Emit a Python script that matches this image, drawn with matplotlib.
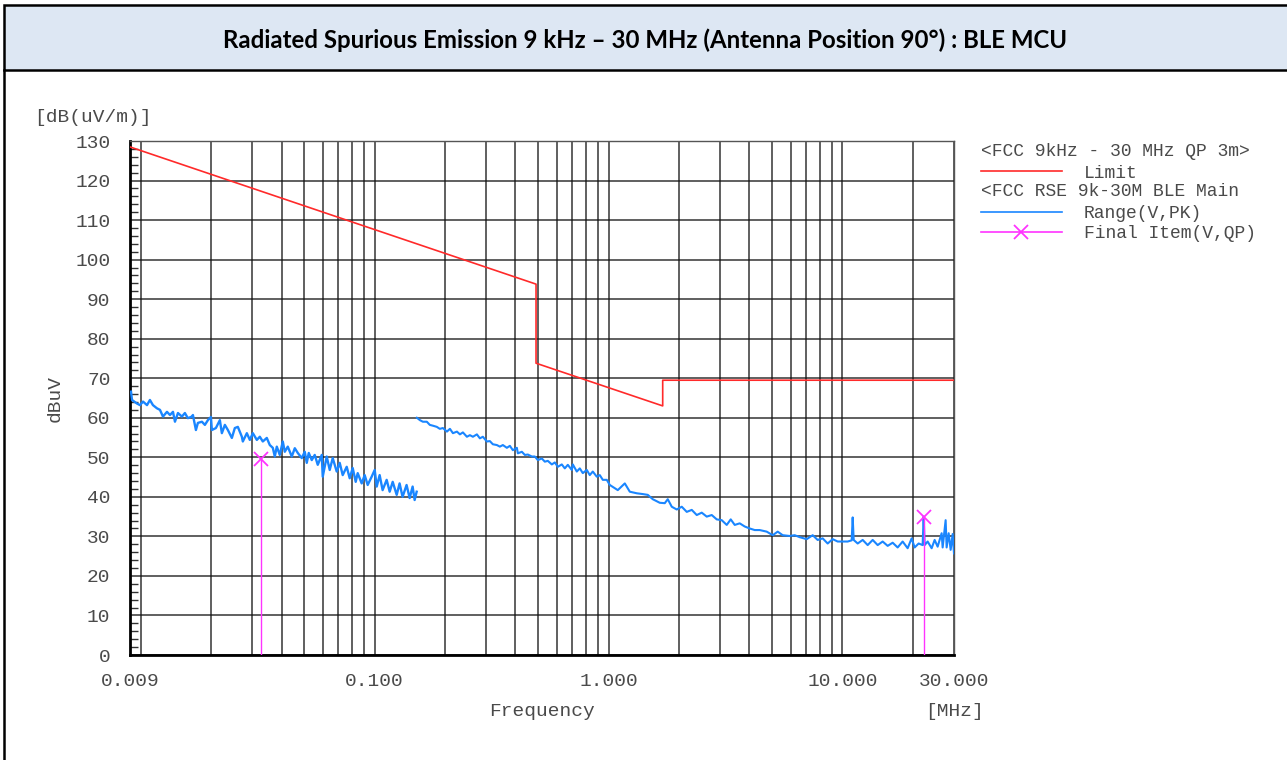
import matplotlib.pyplot as plt
from matplotlib.lines import Line2D
from matplotlib.patches import Rectangle
from matplotlib.ticker import FixedLocator, NullFormatter

# limit line (FCC 15.209 extrapolated to 3 m), MHz / dB(uV/m)
limit_freq = [0.009, 0.49, 0.49, 1.705, 1.705, 30.0]
limit_level = [128.5, 93.8, 73.8, 63.0, 69.5, 69.5]

# peak scan 9 kHz - 150 kHz
seg1_freq = [0.00909, 0.00918, 0.00964, 0.00993, 0.01023, 0.01064, 0.01095, 0.01128,
             0.01173, 0.01209, 0.01245, 0.01295, 0.01334, 0.01374, 0.01401, 0.01443,
             0.01500, 0.01545, 0.01591, 0.01655, 0.01672, 0.01722, 0.01756, 0.01827,
             0.01881, 0.01938, 0.01996, 0.02015, 0.02096, 0.02180, 0.02223, 0.02290,
             0.02359, 0.02453, 0.02526, 0.02602, 0.02707, 0.02733, 0.02843, 0.02928,
             0.03016, 0.03137, 0.03230, 0.03327, 0.03460, 0.03564, 0.03671, 0.03744,
             0.03818, 0.03932, 0.04050, 0.04130, 0.04254, 0.04425, 0.04558, 0.04694,
             0.04882, 0.05028, 0.05128, 0.05230, 0.05386, 0.05547, 0.05714, 0.05943,
             0.06001, 0.06242, 0.06429, 0.06621, 0.06887, 0.07093, 0.07305, 0.07599,
             0.07826, 0.08060, 0.08302, 0.08467, 0.08806, 0.09069, 0.09341, 0.09716,
             0.1001, 0.1021, 0.1051, 0.1082, 0.1126, 0.1160, 0.1195, 0.1243,
             0.1279, 0.1317, 0.1370, 0.1412, 0.1454, 0.1483, 0.1513]
seg1_level = [66.6, 64.5, 63.6, 63.2, 64.1, 63.2, 64.5, 63.2,
              62.4, 62.0, 60.3, 61.5, 60.7, 61.5, 59.0, 61.2,
              60.3, 61.2, 59.9, 60.3, 60.7, 56.9, 58.7, 59.0,
              58.2, 59.4, 60.2, 56.9, 57.4, 59.4, 56.1, 58.2,
              56.9, 54.9, 57.4, 57.7, 55.2, 54.0, 56.1, 54.4,
              56.1, 54.4, 55.2, 54.0, 54.9, 53.1, 52.4, 50.2,
              52.7, 50.6, 54.0, 51.4, 52.7, 50.2, 52.3, 51.1,
              49.8, 51.4, 48.6, 51.1, 49.3, 50.6, 48.1, 50.6,
              45.1, 50.2, 46.8, 49.8, 46.4, 48.6, 45.5, 47.6,
              44.7, 47.3, 43.8, 46.0, 43.4, 45.5, 43.0, 45.1,
              46.8, 42.6, 45.5, 41.7, 44.3, 41.3, 43.8, 40.5,
              43.4, 40.0, 43.0, 39.7, 42.6, 39.2, 41.3]

# peak scan 150 kHz - 30 MHz
seg2_freq = [0.1516, 0.1562, 0.1608, 0.1672, 0.1722, 0.1774, 0.1845, 0.1900,
             0.1959, 0.2038, 0.2099, 0.2162, 0.2249, 0.2316, 0.2385, 0.2481,
             0.2555, 0.2632, 0.2737, 0.2819, 0.2903, 0.3019, 0.3110, 0.3203,
             0.3332, 0.3432, 0.3535, 0.3677, 0.3787, 0.3900, 0.4057, 0.4097,
             0.4261, 0.4389, 0.4520, 0.4702, 0.4842, 0.4988, 0.5187, 0.5343,
             0.5502, 0.5724, 0.5895, 0.6072, 0.6315, 0.6504, 0.6699, 0.6968,
             0.7037, 0.7319, 0.7538, 0.7764, 0.8075, 0.8317, 0.8567, 0.8910,
             0.9177, 0.9454, 0.9833, 1.0128, 1.0957, 1.1741, 1.2333, 1.3212,
             1.4014, 1.4720, 1.5464, 1.6565, 1.7399, 1.7920, 1.8640, 1.9579,
             2.0568, 2.1605, 2.2696, 2.3840, 2.5040, 2.6302, 2.7630, 2.9023,
             3.0486, 3.2022, 3.3310, 3.4645, 3.6393, 3.8228, 4.0155, 4.2179,
             4.4307, 4.7464, 5.0355, 5.2892, 5.5558, 5.9519, 6.2519, 6.5673,
             7.0351, 7.4636, 7.8397, 8.2348, 8.6498, 9.0866, 9.5445, 10.029,
             10.534, 10.958, 11.066, 11.176, 11.624, 12.210, 12.825, 13.472,
             14.151, 14.864, 15.613, 16.402, 17.228, 18.097, 19.009, 19.773,
             20.364, 21.182, 22.033, 22.251, 22.472, 23.144, 24.074, 24.794,
             25.538, 26.564, 26.826, 27.629, 27.902, 28.465, 29.029, 29.607, 30.0]
seg2_level = [60.0, 59.4, 59.0, 59.0, 58.2, 58.0, 57.7, 57.2,
              57.4, 56.5, 57.2, 56.1, 56.5, 55.8, 56.3, 55.2,
              55.6, 55.2, 55.8, 54.8, 55.2, 54.0, 54.1, 53.3,
              53.1, 52.7, 53.1, 52.4, 52.9, 51.8, 52.4, 51.0,
              51.4, 50.6, 50.7, 50.2, 50.2, 49.3, 49.7, 48.9,
              49.1, 48.2, 48.7, 47.6, 48.2, 47.2, 48.1, 46.8,
              48.2, 46.4, 47.2, 46.0, 46.8, 45.5, 46.4, 45.1,
              45.5, 44.3, 44.3, 43.0, 41.7, 43.4, 41.3, 40.9,
              40.7, 40.5, 39.4, 38.5, 38.4, 39.4, 37.5, 36.8,
              37.5, 36.2, 36.7, 35.4, 36.0, 35.0, 35.4, 34.3,
              34.1, 32.9, 34.3, 32.9, 33.3, 32.5, 32.0, 31.6,
              31.6, 31.2, 30.3, 31.2, 30.3, 30.1, 30.3, 29.8,
              29.3, 30.3, 29.1, 29.5, 28.2, 29.3, 28.7, 28.7,
              28.7, 29.0, 34.8, 29.1, 28.2, 29.1, 27.8, 29.1,
              27.8, 28.7, 27.6, 28.4, 27.2, 28.7, 27.0, 29.5,
              27.2, 28.2, 27.8, 35.0, 27.8, 28.7, 27.0, 29.1,
              27.4, 30.8, 27.2, 34.1, 27.2, 30.8, 26.6, 30.6, 25.7]

# final measurement points (QP)
final_freq = [0.0327, 22.25]
final_level = [49.5, 35.0]

x_tick_vals = [0.009, 0.1, 1.0, 10.0, 30.0]
x_tick_labels = ['0.009', '0.100', '1.000', '10.000', '30.000']
grid_freqs = [m * 10.0 ** e for e in (-2, -1, 0, 1) for m in range(1, 10) if m * 10.0 ** e <= 30]

MONO = 'Liberation Mono'
TXT = '#4a4a4a'
BLUE = '#1a86ff'
W, H = 1287, 760

fig = plt.figure(figsize=(W / 100, H / 100), dpi=100)

# table cell frame + title banner
fig.add_artist(Rectangle((4 / W, 1 - 70 / H), 1.0, 65 / H, transform=fig.transFigure,
                         facecolor='#dde7f3', edgecolor='black', lw=1.8))
fig.add_artist(Line2D([4 / W, 4 / W], [0, 1 - 70 / H], transform=fig.transFigure,
                      color='black', lw=1.8))
fig.text(645 / W, 1 - 40 / H,
         'Radiated Spurious Emission 9 kHz \u2013 30 MHz (Antenna Position 90\u00b0) : BLE MCU',
         ha='center', va='center', fontsize=17.3, fontweight='bold', family='Lato')

ax = fig.add_axes([130 / W, 1 - 655 / H, 824 / W, 514 / H])
ax.set_xscale('log')
ax.set_xlim(0.009, 30)
ax.set_ylim(0, 130)

ax.plot(limit_freq, limit_level, color='#ff2a2a', lw=1.2, zorder=4)
ax.plot(seg1_freq, seg1_level, color=BLUE, lw=1.7, zorder=3)
ax.plot(seg2_freq, seg2_level, color=BLUE, lw=1.5, zorder=3)
ax.vlines(final_freq, 0, final_level, color='#ff33ff', lw=1.0, zorder=5)
ax.plot(final_freq, final_level, ls='none', marker='x', ms=10, mew=1.3,
        color='#ff33ff', zorder=6)

# axes styling
ax.xaxis.remove_overlapping_locs = False
ax.xaxis.set_major_locator(FixedLocator(x_tick_vals))
ax.set_xticklabels(x_tick_labels)
ax.xaxis.set_minor_locator(FixedLocator(grid_freqs))
ax.xaxis.set_minor_formatter(NullFormatter())
ax.tick_params(axis='x', which='both', length=0, pad=13)
ax.grid(True, which='minor', axis='x', color='#111111', lw=1.1, alpha=0.85)

ax.set_yticks(range(0, 131, 10))
ax.yaxis.set_minor_locator(FixedLocator([v for v in range(0, 131, 2) if v % 10]))
ax.tick_params(axis='y', which='major', length=0, pad=14)
ax.tick_params(axis='y', which='minor', direction='in', length=5.5, width=1.0,
               color='#333333', left=True, right=False)
ax.grid(True, which='major', axis='y', color='#111111', lw=1.1, alpha=0.85)

for lab in ax.get_xticklabels() + ax.get_yticklabels():
    lab.set_fontfamily(MONO)
    lab.set_fontsize(14)
    lab.set_color(TXT)

for side in ('left', 'bottom'):
    ax.spines[side].set_linewidth(2.0)
for side in ('top', 'right'):
    ax.spines[side].set_linewidth(1.0)
    ax.spines[side].set_color('#555555')

# axis titles
fig.text(34 / W, 1 - 118 / H, '[dB(uV/m)]', ha='left', va='center',
         family=MONO, fontsize=14, color=TXT)
fig.text(55 / W, 1 - 398 / H, 'dBuV', ha='center', va='center', rotation=90,
         family=MONO, fontsize=14, color=TXT)
fig.text(542 / W, 1 - 712 / H, 'Frequency', ha='center', va='center',
         family=MONO, fontsize=14, color=TXT)
fig.text(925 / W, 1 - 712 / H, '[MHz]', ha='left', va='center',
         family=MONO, fontsize=14, color=TXT)

# legend block
def fx(px):
    return px / W


def fy(py):
    return 1 - py / H


leg_kw = dict(family=MONO, fontsize=13, color=TXT, va='center', ha='left')
fig.text(fx(981), fy(151), '<FCC 9kHz - 30 MHz QP 3m>', **leg_kw)
fig.add_artist(Line2D([fx(981), fx(1062)], [fy(171), fy(171)], transform=fig.transFigure,
                      color='#ff2a2a', lw=1.2))
fig.text(fx(1084), fy(173), 'Limit', **leg_kw)
fig.text(fx(981), fy(191), '<FCC RSE 9k-30M BLE Main', **leg_kw)
fig.add_artist(Line2D([fx(981), fx(1062)], [fy(212), fy(212)], transform=fig.transFigure,
                      color=BLUE, lw=1.2))
fig.text(fx(1084), fy(213), 'Range(V,PK)', **leg_kw)
fig.add_artist(Line2D([fx(981), fx(1062)], [fy(232), fy(232)], transform=fig.transFigure,
                      color='#ff33ff', lw=1.2))
fig.add_artist(Line2D([fx(1021)], [fy(232)], transform=fig.transFigure, ls='none',
                      marker='x', ms=10, mew=1.3, color='#ff33ff'))
fig.text(fx(1084), fy(234), 'Final Item(V,QP)', **leg_kw)

fig.savefig('out.png', dpi=100)
